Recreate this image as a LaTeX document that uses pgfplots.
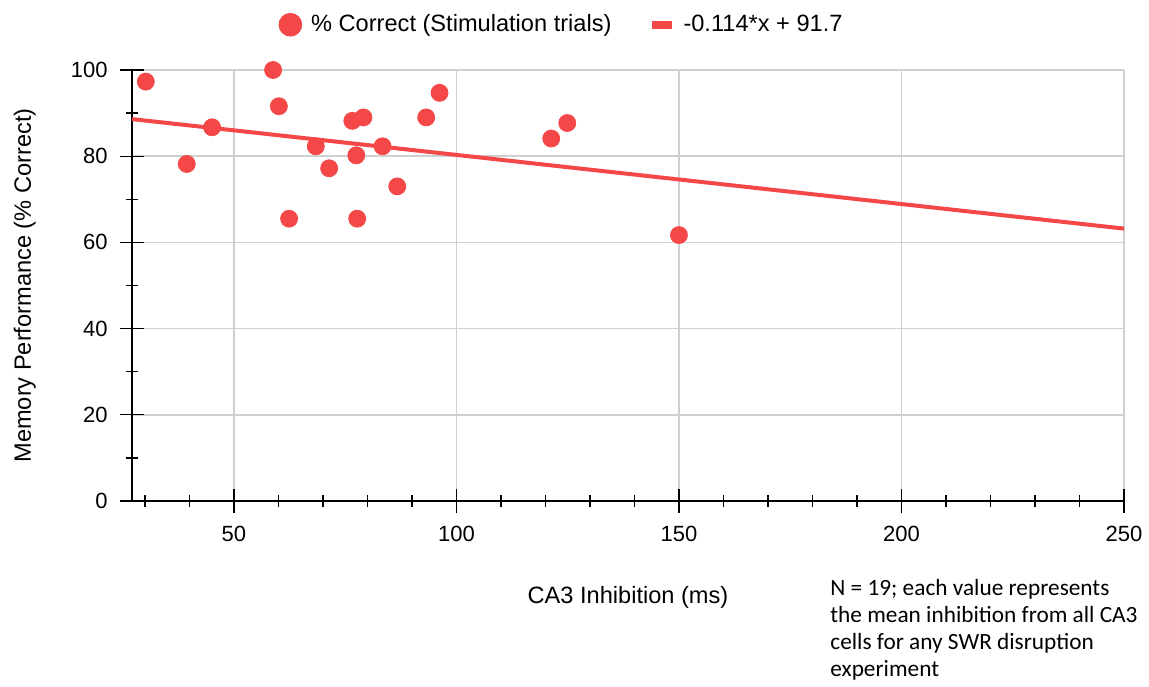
\documentclass[border=0pt]{standalone}
\usepackage{fontspec}
\setmainfont{Liberation Sans}
\newfontfamily\carlito{Carlito}
\usepackage{pgfplots}
\pgfplotsset{compat=1.18}
\definecolor{ptred}{RGB}{244,72,72}
\definecolor{gridgray}{RGB}{208,208,208}
\begin{document}
\begin{tikzpicture}
\path[use as bounding box] (0,0) rectangle (574.5pt,343pt);
\begin{axis}[
  at={(66pt,92.5pt)}, anchor=south west,
  scale only axis, width=496pt, height=215.5pt,
  xmin=27.1, xmax=250, ymin=0, ymax=100,
  axis x line=bottom, axis y line=left,
  axis line style={-, black, line width=0.8pt},
  xtick={50,100,150,200,250},
  ytick={0,20,40,60,80,100},
  minor xtick={30,40,60,70,80,90,110,120,130,140,160,170,180,190,210,220,230,240},
  minor ytick={10,30,50,70,90},
  tick align=center,
  major tick length=12pt, minor tick length=6pt,
  tick style={black, line width=0.65pt},
  grid=major, major grid style={gridgray, line width=0.75pt},
  /pgf/number format/assume math mode=true,
  ticklabel style={font=\fontsize{11}{13}\selectfont},
  xticklabel style={yshift=-3pt},
  yticklabel style={xshift=-2.7pt},
  xlabel={CA3 Inhibition (ms)}, ylabel={Memory Performance (\% Correct)},
  every axis x label/.style={at={(axis description cs:0.5,-0.2227)}, anchor=center, font=\fontsize{11.8}{14}\selectfont},
  every axis y label/.style={at={(axis description cs:-0.108,0.5)}, anchor=center, rotate=90, font=\fontsize{11.8}{14}\selectfont},
  legend columns=2,
  legend style={draw=none, fill=none, at={(axis description cs:0.434,1.105)}, anchor=center,
    font=\fontsize{11.8}{14}\selectfont,
    /tikz/every even column/.append style={column sep=16pt}},
  clip=false,
]
\addplot[ptred, line width=2pt, forget plot] coordinates {(27.1,88.61) (250,63.2)};
\addplot[only marks, mark=*, mark size=4.25pt, ptred, mark options={fill=ptred, draw=none},
  legend image code/.code={\fill[ptred] (0pt,0pt) circle (5.7pt); \path[draw=none, fill=none] (0pt,0pt) -- (8.4pt,0pt);}] coordinates {
(30.2,97.3) (39.4,78.2) (45.1,86.7) (58.8,100) (60.1,91.6) (62.4,65.5)
(68.4,82.3) (71.4,77.2) (76.6,88.2) (79.1,89.0) (77.5,80.2) (77.7,65.5)
(83.4,82.3) (86.7,73.0) (93.2,89.0) (96.2,94.7) (121.3,84.1) (124.9,87.7)
(150.0,61.7)
};
\addlegendentry{\% Correct (Stimulation trials)}
\addlegendimage{ptred, line width=4pt, legend image code/.code={\draw[ptred, line width=4pt] (0pt,0pt) -- (10pt,0pt); \path[draw=none, fill=none] (0pt,0pt) -- (14pt,0pt);}}
\addlegendentry{-0.114*x + 91.7}
\end{axis}
\node[anchor=north west, align=left, inner sep=0pt, font=\carlito\fontsize{11.65}{13.5}\selectfont] at (415pt,53.5pt)
{N = 19; each value represents\\the mean inhibition from all CA3\\cells for any SWR disruption\\experiment};
\end{tikzpicture}
\end{document}
